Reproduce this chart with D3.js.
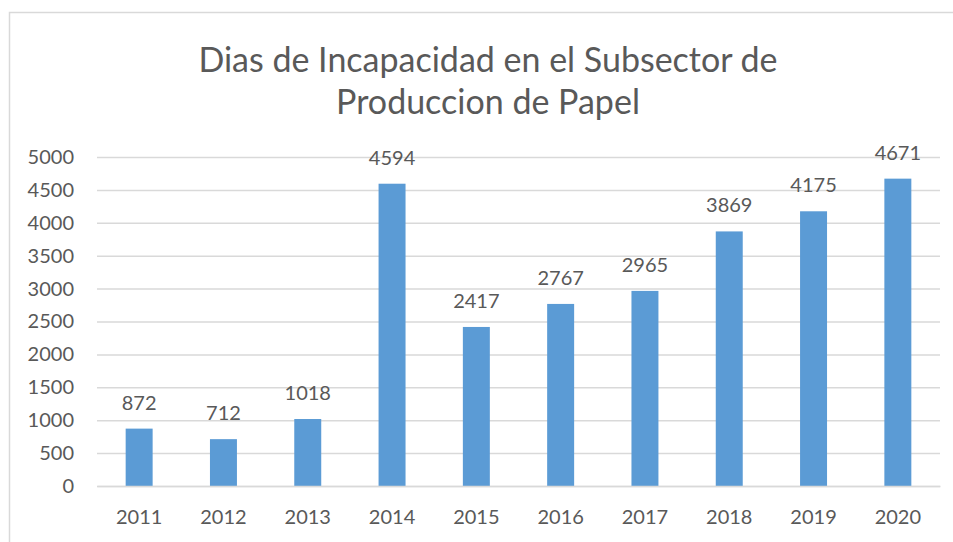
<!DOCTYPE html>
<html>
<head>
<meta charset="utf-8">
<script src="https://cdn.jsdelivr.net/npm/d3@7"></script>
<style>
  body { margin: 0; background: #fff; }
  text { font-family: Lato, "Open Sans", sans-serif; fill: #595959; }
</style>
</head>
<body>
<div id="wrapper"></div>
<script>
// chart data
const years = ["2011", "2012", "2013", "2014", "2015", "2016", "2017", "2018", "2019", "2020"]
const dias = [872, 712, 1018, 4594, 2417, 2767, 2965, 3869, 4175, 4671]
const yTicks = [0, 500, 1000, 1500, 2000, 2500, 3000, 3500, 4000, 4500, 5000]
const titleLines = ["Dias de Incapacidad en el Subsector de", "Produccion de Papel"]

function drawBarChart() {
  const data = years.map((y, i) => ({ year: y, value: dias[i] }))

  let dimensions = {
    width: 953,
    height: 542,
    margins: { top: 157, right: 13, bottom: 56, left: 97 },
  }
  dimensions.boundedWidth = dimensions.width - dimensions.margins.left - dimensions.margins.right
  dimensions.boundedHeight = dimensions.height - dimensions.margins.top - dimensions.margins.bottom

  const wrapper = d3.select("#wrapper")
    .append("svg")
    .attr("width", dimensions.width)
    .attr("height", dimensions.height)

  // chart area frame (cut off at right and bottom)
  wrapper.append("rect")
    .attr("x", 9.5)
    .attr("y", 12.5)
    .attr("width", 1000)
    .attr("height", 1000)
    .attr("fill", "none")
    .attr("stroke", "#d9d9d9")
    .attr("stroke-width", 1.5)

  // title
  wrapper.append("text")
    .attr("text-anchor", "middle")
    .style("font-size", "34px")
    .selectAll("tspan")
    .data(titleLines)
    .join("tspan")
    .attr("x", 488)
    .attr("y", (d, i) => 72 + i * 42)
    .text(d => d)

  const bounds = wrapper.append("g")
    .attr("transform", `translate(${dimensions.margins.left}, ${dimensions.margins.top})`)

  const xScale = d3.scaleBand()
    .domain(years)
    .range([0, dimensions.boundedWidth])
    .paddingInner(0.68)
    .paddingOuter(0.34)

  const yScale = d3.scaleLinear()
    .domain([0, 5000])
    .range([dimensions.boundedHeight, 0])

  // gridlines
  const yAxisGenerator = d3.axisLeft(yScale)
    .tickValues(yTicks)
    .tickFormat(d3.format("d"))
    .tickSize(-dimensions.boundedWidth)
    .tickPadding(23)

  const yAxis = bounds.append("g").call(yAxisGenerator)
  yAxis.select(".domain").remove()
  yAxis.selectAll(".tick line").attr("stroke", "#d9d9d9").attr("stroke-width", 1.5)
  yAxis.selectAll(".tick text")
    .style("font-size", "20px")
    .style("font-family", "Lato, sans-serif")
    .attr("fill", "#595959")

  // bars
  bounds.selectAll(".bar")
    .data(data)
    .join("rect")
    .attr("class", "bar")
    .attr("x", d => xScale(d.year))
    .attr("y", d => yScale(d.value))
    .attr("width", xScale.bandwidth())
    .attr("height", d => dimensions.boundedHeight - yScale(d.value))
    .attr("fill", "#5b9bd5")

  // value labels
  bounds.selectAll(".label")
    .data(data)
    .join("text")
    .attr("class", "label")
    .attr("x", d => xScale(d.year) + xScale.bandwidth() / 2)
    .attr("y", d => yScale(d.value) - 19)
    .attr("text-anchor", "middle")
    .style("font-size", "20px")
    .text(d => d.value)

  // x axis
  const xAxisGenerator = d3.axisBottom(xScale).tickSize(0).tickPadding(24)
  const xAxis = bounds.append("g")
    .attr("transform", `translate(0, ${dimensions.boundedHeight})`)
    .call(xAxisGenerator)
  xAxis.select(".domain").attr("stroke", "#d9d9d9").attr("stroke-width", 1.5)
  xAxis.selectAll(".tick text")
    .style("font-size", "20px")
    .style("font-family", "Lato, sans-serif")
    .attr("fill", "#595959")
}

drawBarChart()
</script>
</body>
</html>
